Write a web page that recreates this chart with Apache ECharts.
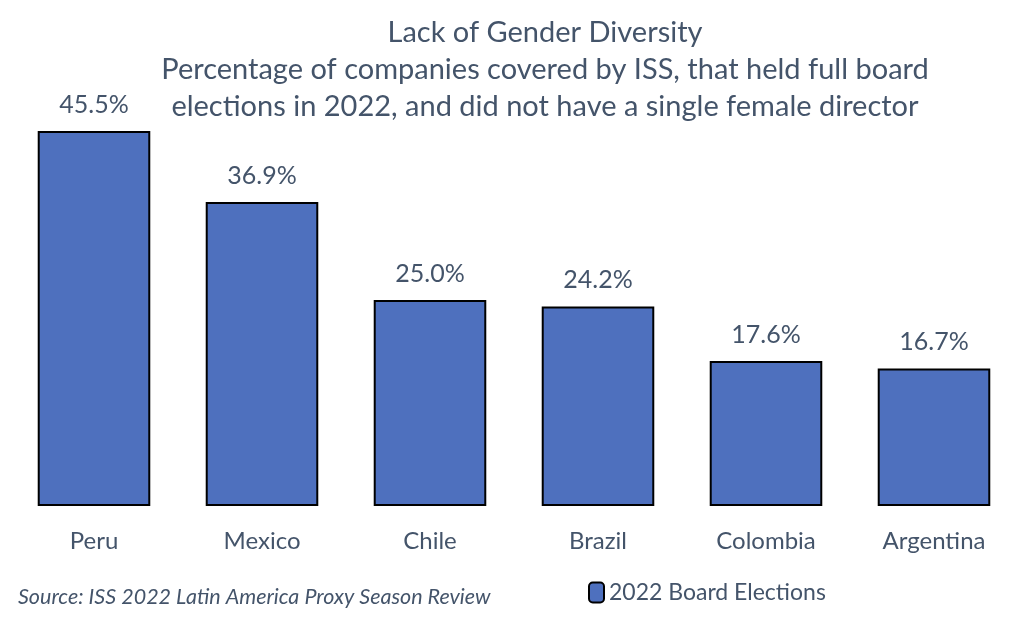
<!DOCTYPE html>
<html><head><meta charset="utf-8">
<script src="https://cdn.jsdelivr.net/npm/echarts@6/dist/echarts.min.js"></script>
<style>html,body{margin:0;padding:0;background:#fff}#c{width:1024px;height:628px}</style>
</head><body><div id="c"></div>
<script>
const categories = ['Peru','Mexico','Chile','Brazil','Colombia','Argentina'];
const values = [45.5, 36.9, 25.0, 24.2, 17.6, 16.7];
const seriesName = '2022 Board Elections';
const titleText = 'Lack of Gender Diversity\nPercentage of companies covered by ISS, that held full board\nelections in 2022, and did not have a single female director';
const sourceText = 'Source: ISS 2022 Latin America Proxy Season Review';
const txt = '#44546A';
const font = 'Lato';
const chart = echarts.init(document.getElementById('c'));
chart.setOption({
  animation:false,
  title:{text:titleText,left:540,top:9,textAlign:'center',
    textStyle:{fontFamily:font,fontSize:29,fontWeight:'normal',color:txt,lineHeight:37}},
  legend:{data:[seriesName],left:583,top:576,itemWidth:15,itemHeight:20,itemGap:5,
    textStyle:{fontFamily:font,fontSize:23,color:txt},
    itemStyle:{borderColor:'#000',borderWidth:2}},
  graphic:[{type:'text',left:18,top:586,style:{text:sourceText,fontFamily:font,fontSize:21.5,fontStyle:'italic',fill:txt}}],
  grid:{left:10,right:6,top:94,bottom:122},
  xAxis:{type:'category',data:categories,axisLine:{show:false},axisTick:{show:false},
    axisLabel:{fontFamily:font,fontSize:24,color:txt,margin:23}},
  yAxis:{type:'value',min:0,max:50,show:false,splitLine:{show:false}},
  series:[{name:seriesName,type:'bar',data:values,barCategoryGap:'33%',
    itemStyle:{color:'#4E70BE',borderColor:'#000',borderWidth:2},
    label:{show:true,position:'top',distance:14,fontFamily:font,fontSize:25,color:txt,
      formatter:p=>p.value.toFixed(1)+'%'}}]
});
</script></body></html>
